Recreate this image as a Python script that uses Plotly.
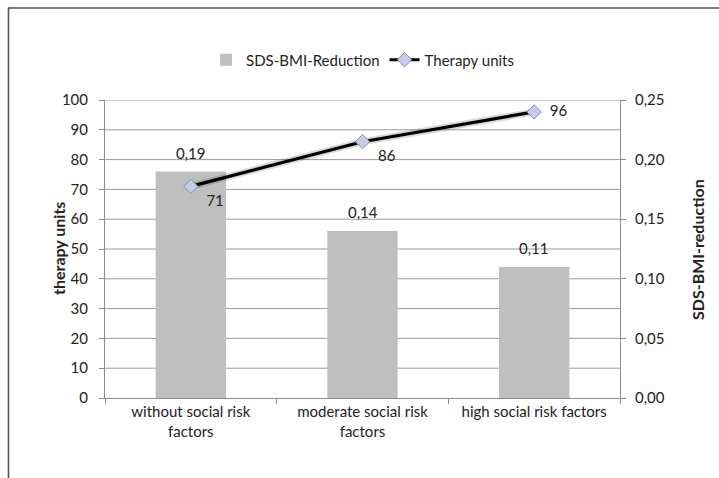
import plotly.graph_objects as go

categories = ["without social risk<br>factors", "moderate social risk<br>factors", "high social risk factors"]
sds_reduction = [0.19, 0.14, 0.11]
therapy_units = [71, 86, 96]
line_label_pos = ["bottom right", "bottom right", "middle right"]

W, H = 719, 478
L, T = 105, 100
R, B = 719 - 620, 478 - 398
pw, ph = W - L - R, H - T - B

def px(sx):  # pixel x -> paper x
    return (sx - L) / pw

def py(sy):  # pixel y -> paper y
    return (H - B - sy) / ph

FONT = "Lato"
FS = 15
TXT = "#222222"
AX = "#8c8c8c"

fig = go.Figure()
fig.add_trace(go.Bar(
    x=categories, y=sds_reduction, name="SDS-BMI-Reduction", xaxis="x", yaxis="y",
    marker=dict(color="#bfbfbf", line=dict(width=0)), width=0.41,
))
fig.add_trace(go.Scatter(
    x=categories, y=therapy_units, mode="lines", showlegend=False, hoverinfo="skip",
    line=dict(color="rgba(0,0,0,0.15)", width=7), xaxis="x", yaxis="y2",
))
fig.add_trace(go.Scatter(
    x=categories, y=therapy_units, name="Therapy units", mode="lines+markers+text",
    xaxis="x", yaxis="y2",
    line=dict(color="#000000", width=3.2),
    marker=dict(symbol="diamond", size=11, color="#c4cde3", line=dict(color="#7d8db5", width=1)),
    text=["  " + str(v) for v in therapy_units], textposition=line_label_pos,
    textfont=dict(size=FS, color=TXT, family=FONT), cliponaxis=False,
))

annotations = [
    dict(x=c, y=v, xref="x", yref="y", text=f"{v:.2f}".replace(".", ","), showarrow=False,
         yanchor="bottom", yshift=8, font=dict(size=FS, color=TXT, family=FONT))
    for c, v in zip(categories, sds_reduction)
]
annotations += [
    dict(x=px(58), y=0.5, xref="paper", yref="paper", text="<b>therapy units</b>", textangle=-90,
         showarrow=False, xanchor="center", yanchor="middle", font=dict(size=16, family=FONT, color=TXT)),
    dict(x=px(697), y=0.5, xref="paper", yref="paper", text="<b>SDS-BMI-reduction</b>", textangle=-90,
         showarrow=False, xanchor="center", yanchor="middle", font=dict(size=16, family=FONT, color=TXT)),
]

grid_vals = [i * 0.025 for i in range(1, 11)]
shapes = [
    dict(type="line", xref="paper", yref="y", x0=0, x1=1, y0=g, y1=g,
         line=dict(color="#9a9a9a", width=1), layer="below")
    for g in grid_vals
]
# outer frame: left and top edges
shapes += [
    dict(type="line", xref="paper", yref="paper", x0=px(8.5), x1=px(8.5), y0=py(7.5), y1=py(478),
         line=dict(color="#555555", width=1.6)),
    dict(type="line", xref="paper", yref="paper", x0=px(8), x1=px(719), y0=py(8), y1=py(8),
         line=dict(color="#555555", width=1.6)),
]

fig.update_layout(
    width=W, height=H, margin=dict(l=L, r=R, t=T, b=B, autoexpand=False),
    paper_bgcolor="white", plot_bgcolor="white",
    separators=", ",
    font=dict(family=FONT, size=FS, color=TXT),
    showlegend=True,
    legend=dict(orientation="h", x=0.5, xanchor="center", y=py(60), yanchor="middle",
                font=dict(size=FS, family=FONT), traceorder="normal"),
    xaxis=dict(showgrid=False, showline=True, linecolor=AX, linewidth=1,
               ticks="outside", tickson="boundaries", ticklen=5, tickcolor=AX,
               tickfont=dict(size=FS, family=FONT)),
    yaxis=dict(range=[0, 0.25], tickvals=[0, 0.05, 0.10, 0.15, 0.20, 0.25], tickformat=".2f",
               side="right", showgrid=False, showline=True, linecolor=AX,
               ticks="outside", ticklen=5, tickcolor=AX, zeroline=False, ticklabelstandoff=6,
               tickfont=dict(size=FS, family=FONT)),
    yaxis2=dict(range=[0, 100], dtick=10, overlaying="y", side="left",
                showgrid=False, showline=True, linecolor=AX, ticks="outside", ticklen=5,
                tickcolor=AX, zeroline=False, ticklabelstandoff=8,
                tickfont=dict(size=FS, family=FONT)),
    annotations=annotations,
    shapes=shapes,
)

fig.write_html("out.html", config={"displayModeBar": False},
               post_script="document.body.style.margin='0';document.body.style.overflow='hidden';")
